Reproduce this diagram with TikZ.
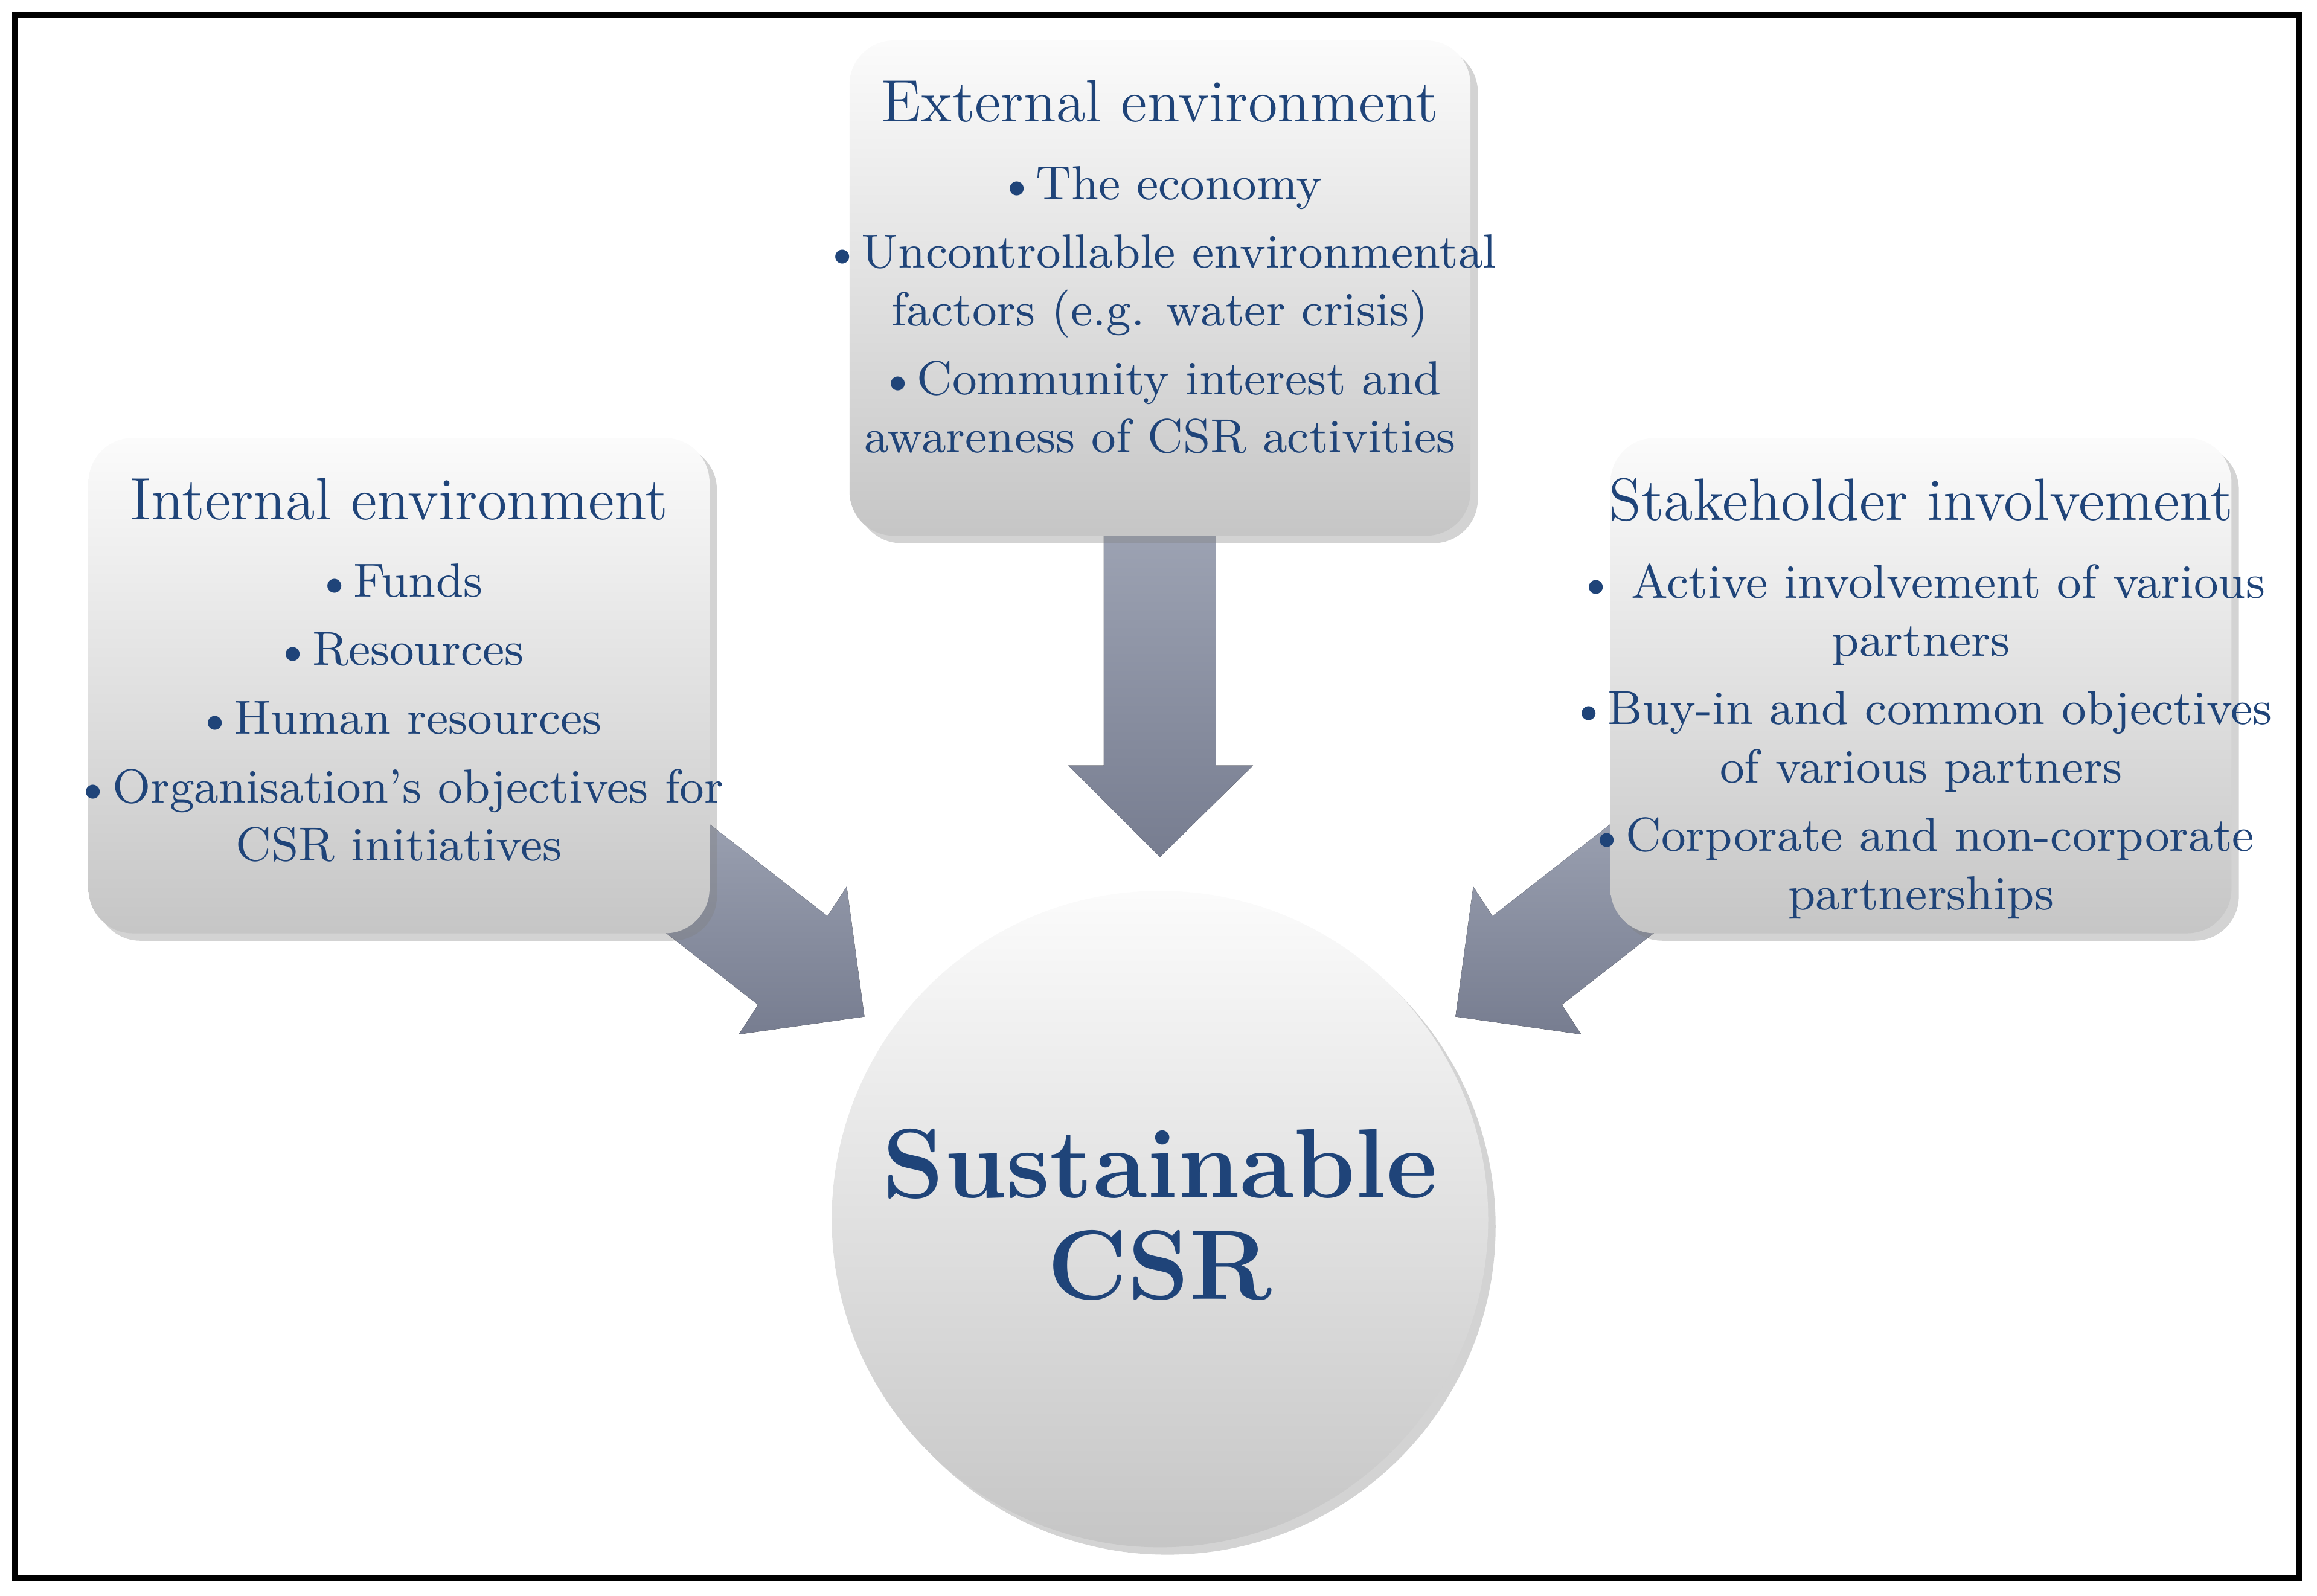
\documentclass[tikz,border=0pt]{standalone}
\usetikzlibrary{shadows}
\definecolor{txt}{HTML}{1F4479}
\definecolor{arA}{HTML}{A0A6B6}
\definecolor{arB}{HTML}{777D90}
\tikzset{
 boxst/.style={rectangle,rounded corners=0.3cm,minimum width=4.2cm,minimum height=3.35cm,top color=white!97!gray,bottom color=gray!45,drop shadow={opacity=0.35,shadow xshift=0.05cm,shadow yshift=-0.05cm},draw=none},
 titlest/.style={text=txt,font=\fontsize{11.5}{13}\selectfont,anchor=north},
 bodyst/.style={text=txt,font=\fontsize{9.2}{11.2}\selectfont,align=center,anchor=north},
 arst/.style={top color=arA,bottom color=arB,draw=none}
}
\begin{document}
\begin{tikzpicture}[x=0.01cm,y=-0.01cm]
\useasboundingbox (0,0) rectangle (1568,1080);
\draw[line width=1pt] (10,10) rectangle (1556,1068);
% arrows
\fill[arst] (747,340) -- (823,340) -- (823,518) -- (848,518) -- (785,580) -- (723,518) -- (747,518) -- cycle;
\fill[arst] (395,588) -- (442,528) -- (560,620) -- (573,600) -- (585,688) -- (500,700) -- (513,680) -- cycle;
\fill[arst] (1175,588) -- (1128,528) -- (1010,620) -- (997,600) -- (985,688) -- (1070,700) -- (1057,680) -- cycle;
% boxes
\node[boxst] (ext) at (785,195) {};
\node[boxst] (int) at (270,464) {};
\node[boxst] (stk) at (1300,464) {};
\node[circle,minimum size=4.44cm,top color=white!97!gray,bottom color=gray!45,drop shadow={opacity=0.35,shadow xshift=0.05cm,shadow yshift=-0.05cm}] (csr) at (785,825) {};
\node[titlest] (extT) at (785,42) {External environment};
\node[bodyst] (extB) at (785,100) {\textbullet The economy\\[2pt]\textbullet Uncontrollable environmental\\factors (e.g. water crisis)\\[2pt]\textbullet Community interest and\\awareness of CSR activities};
\node[titlest] (intT) at (270,311) {Internal environment};
\node[bodyst] (intB) at (270,369) {\textbullet Funds\\[2pt]\textbullet Resources\\[2pt]\textbullet Human resources\\[2pt]\textbullet Organisation's objectives for\\CSR initiatives};
\node[titlest] (stkT) at (1300,311) {Stakeholder involvement};
\node[bodyst] (stkB) at (1300,369) {\textbullet\ Active involvement of various\\partners\\[2pt]\textbullet Buy-in and common objectives\\of various partners\\[2pt]\textbullet Corporate and non-corporate\\partnerships};
\node[text=txt,font=\fontsize{19}{19.5}\selectfont\bfseries,align=center] (csrT) at (785,822) {Sustainable\\CSR};
\end{tikzpicture}
\end{document}
